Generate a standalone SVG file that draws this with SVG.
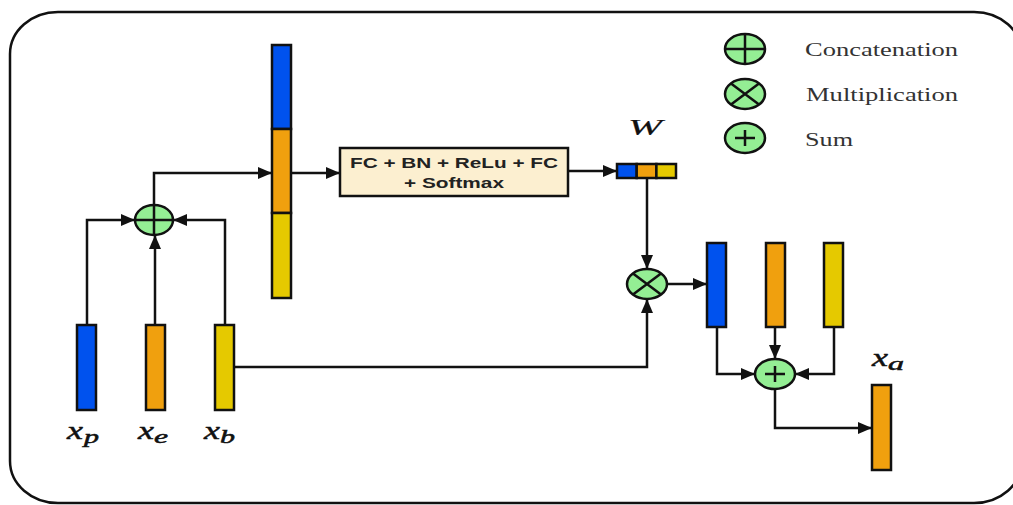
<svg xmlns="http://www.w3.org/2000/svg" width="1013" height="505" viewBox="0 0 1013 505">
<style>
.frame{fill:#fff;stroke:#111;stroke-width:2.5}
.bar{stroke:#111;stroke-width:2.5}
.b{fill:#0052ee}
.o{fill:#f0a00e}
.y{fill:#e5c900}
.op{fill:#94ee94;stroke:#111;stroke-width:2.5}
.sym{stroke:#111;stroke-width:2.5;fill:none}
.conn{fill:none;stroke:#111;stroke-width:2.5}
.box{fill:#fcefd0;stroke:#111;stroke-width:2.5}
.fc{font-family:"Liberation Sans",Arial,sans-serif;font-weight:bold;font-size:14px;fill:#222}
.leg{font-family:"Liberation Serif","Times New Roman",serif;font-size:19px;fill:#333}
.m{font-family:"Liberation Serif","Times New Roman",serif;font-style:italic;fill:#111;stroke:#111;stroke-width:0.5}
</style>
<defs>
<marker id="ah" viewBox="0 0 14 12" refX="14" refY="6" markerWidth="14" markerHeight="12" markerUnits="userSpaceOnUse" orient="auto">
<path d="M0,0 L14,6 L0,12 z" fill="#111"/>
</marker>
</defs>
<rect class="frame" x="10" y="12" width="1012" height="491" rx="48" ry="42"/>

<g id="connectors">
<path class="conn" d="M87,325 V220 H135" marker-end="url(#ah)"/>
<path class="conn" d="M225,325 V220 H173" marker-end="url(#ah)"/>
<path class="conn" d="M155,325 V235" marker-end="url(#ah)"/>
<path class="conn" d="M154,205 V173 H272" marker-end="url(#ah)"/>
<path class="conn" d="M291,173 H340" marker-end="url(#ah)"/>
<path class="conn" d="M568,171 H617" marker-end="url(#ah)"/>
<path class="conn" d="M647,178 V269" marker-end="url(#ah)"/>
<path class="conn" d="M235,367 H647 V299" marker-end="url(#ah)"/>
<path class="conn" d="M667,284 H707" marker-end="url(#ah)"/>
<path class="conn" d="M717,327 V374 H755" marker-end="url(#ah)"/>
<path class="conn" d="M775,327 V359" marker-end="url(#ah)"/>
<path class="conn" d="M834,327 V374 H795" marker-end="url(#ah)"/>
<path class="conn" d="M775,389 V428 H872" marker-end="url(#ah)"/>
</g>

<g id="xp">
<rect class="bar b" x="77" y="325" width="19" height="85"/>
<text class="m" x="67" y="439" font-size="26" textLength="16" lengthAdjust="spacingAndGlyphs">x</text>
<text class="m" x="84" y="443" font-size="18" textLength="15" lengthAdjust="spacingAndGlyphs">p</text>
</g>
<g id="xe">
<rect class="bar o" x="146" y="325" width="19" height="85"/>
<text class="m" x="138" y="439" font-size="26" textLength="16" lengthAdjust="spacingAndGlyphs">x</text>
<text class="m" x="154" y="443" font-size="18" textLength="14" lengthAdjust="spacingAndGlyphs">e</text>
</g>
<g id="xb">
<rect class="bar y" x="215" y="325" width="19" height="85"/>
<text class="m" x="204" y="439" font-size="26" textLength="16" lengthAdjust="spacingAndGlyphs">x</text>
<text class="m" x="220" y="443" font-size="18" textLength="15" lengthAdjust="spacingAndGlyphs">b</text>
</g>

<g id="concat">
<ellipse class="op" cx="154" cy="220" rx="19" ry="15"/>
<path class="sym" d="M135,220 H173 M154,205 V235"/>
</g>

<g id="stack">
<rect class="bar b" x="272" y="45" width="19" height="84"/>
<rect class="bar o" x="272" y="129" width="19" height="84"/>
<rect class="bar y" x="272" y="213" width="19" height="85"/>
</g>

<g id="fcbox">
<rect class="box" x="340" y="148" width="228" height="48"/>
<text class="fc" x="454" y="168" text-anchor="middle" textLength="208" lengthAdjust="spacingAndGlyphs">FC + BN + ReLu + FC</text>
<text class="fc" x="454" y="188" text-anchor="middle" textLength="100" lengthAdjust="spacingAndGlyphs">+ Softmax</text>
</g>

<g id="W">
<rect class="bar b" x="617" y="164" width="19.7" height="14"/>
<rect class="bar o" x="636.7" y="164" width="19.7" height="14"/>
<rect class="bar y" x="656.4" y="164" width="19.6" height="14"/>
<text class="m" x="628" y="135" font-size="24" textLength="34" lengthAdjust="spacingAndGlyphs" style="stroke-width:0.2">W</text>
</g>

<g id="mult">
<ellipse class="op" cx="647" cy="284" rx="20" ry="15"/>
<path class="sym" d="M633,273.4 L661,294.6 M661,273.4 L633,294.6"/>
</g>

<g id="outbars">
<rect class="bar b" x="707" y="243" width="19" height="84"/>
<rect class="bar o" x="766" y="243" width="19" height="84"/>
<rect class="bar y" x="824" y="243" width="19" height="84"/>
</g>

<g id="sum">
<ellipse class="op" cx="775" cy="374" rx="20" ry="15"/>
<path class="sym" d="M765,374 H785 M775,366 V382"/>
</g>

<g id="xa">
<rect class="bar o" x="872" y="385" width="19" height="85"/>
<text class="m" x="872" y="366" font-size="26" textLength="16" lengthAdjust="spacingAndGlyphs">x</text>
<text class="m" x="888" y="370" font-size="18" textLength="16" lengthAdjust="spacingAndGlyphs">a</text>
</g>

<g id="legend">
<ellipse class="op" cx="745" cy="49" rx="20" ry="15"/>
<path class="sym" d="M725,49 H765 M745,34 V64"/>
<text class="leg" x="805" y="56" textLength="153" lengthAdjust="spacingAndGlyphs">Concatenation</text>
<ellipse class="op" cx="745" cy="94" rx="20" ry="15"/>
<path class="sym" d="M731,83.4 L759,104.6 M759,83.4 L731,104.6"/>
<text class="leg" x="806" y="101" textLength="152" lengthAdjust="spacingAndGlyphs">Multiplication</text>
<ellipse class="op" cx="745" cy="138" rx="20" ry="15"/>
<path class="sym" d="M735,138 H755 M745,130 V146"/>
<text class="leg" x="805" y="146" textLength="48" lengthAdjust="spacingAndGlyphs">Sum</text>
</g>
</svg>
